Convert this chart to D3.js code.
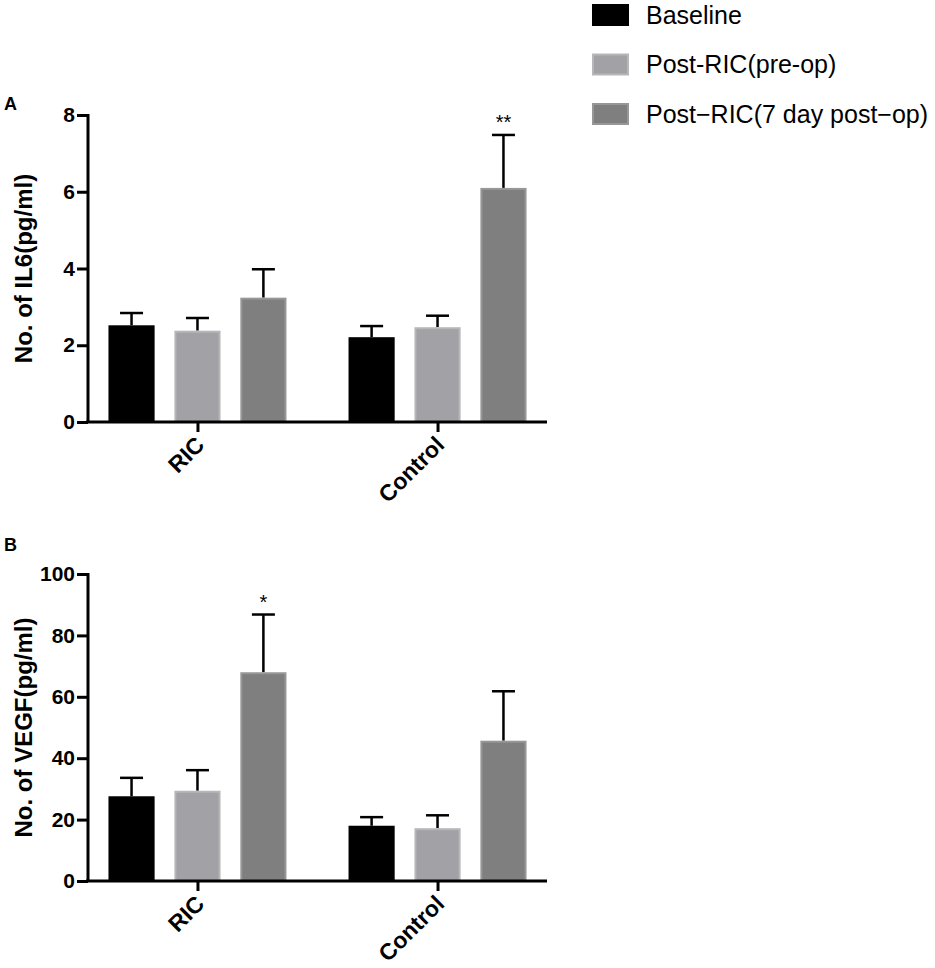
<!DOCTYPE html>
<html><head><meta charset="utf-8">
<script src="https://cdn.jsdelivr.net/npm/d3@7"></script>
<style>body{margin:0;background:#fff}</style>
</head><body>
<svg id="c" width="935" height="968"></svg>
<script>
const categories = ["RIC", "Control"];
const seriesNames = ["Baseline", "Post-RIC(pre-op)", "Post\u2212RIC(7 day post\u2212op)"];
const il6Mean = [[2.52, 2.38, 3.24], [2.21, 2.47, 6.10]];
const il6Err  = [[2.84, 2.71, 3.98], [2.50, 2.77, 7.48]];
const il6Ticks = [0, 2, 4, 6, 8];
const il6Stars = [["", "", ""], ["", "", "**"]];
const vegfMean = [[27.6, 29.4, 68.0], [18.0, 17.2, 45.7]];
const vegfErr  = [[33.6, 36.1, 86.8], [20.8, 21.4, 61.8]];
const vegfTicks = [0, 20, 40, 60, 80, 100];
const vegfStars = [["", "", "*"], ["", "", ""]];

const fills = ["#000000", "#a2a2a6", "#7f7f7f"];
const strokes = ["#000000", "#b7b7ba", "#979797"];

const svg = d3.select("#c");
const boldFont = "'Liberation Sans', Arial, sans-serif";

function panel(opts) {
  const {letter, letterY, top, bottom, max, ticks, means, errs, stars, title} = opts;
  const g = svg.append("g");
  const x0 = d3.scalePoint().domain(categories).range([88, 547]).padding(0.456);
  const x1 = d3.scaleBand().domain(seriesNames).range([-89, 89]).paddingInner(0.3).paddingOuter(0);
  const y = d3.scaleLinear().domain([0, max]).range([bottom, top]);

  categories.forEach((c, ci) => {
    seriesNames.forEach((s, si) => {
      const bx = x0(c) + x1(s);
      const bw = x1.bandwidth();
      const cx = bx + bw / 2;
      g.append("line").attr("x1", cx).attr("x2", cx)
        .attr("y1", y(means[ci][si])).attr("y2", y(errs[ci][si]))
        .attr("stroke", "#000").attr("stroke-width", 2.5);
      g.append("line").attr("x1", cx - 11.5).attr("x2", cx + 11.5)
        .attr("y1", y(errs[ci][si])).attr("y2", y(errs[ci][si]))
        .attr("stroke", "#000").attr("stroke-width", 2.5);
      g.append("rect").attr("x", bx + 1).attr("y", y(means[ci][si]) + 1)
        .attr("width", bw - 2).attr("height", y(0) - y(means[ci][si]) - 1)
        .attr("fill", fills[si]).attr("stroke", strokes[si]).attr("stroke-width", 2);
      if (stars[ci][si]) {
        g.append("text").attr("x", cx).attr("y", y(errs[ci][si]) - 6)
          .attr("text-anchor", "middle").attr("font-family", boldFont)
          .attr("font-size", 20).text(stars[ci][si]);
      }
    });
  });

  const ya = g.append("g").attr("transform", "translate(88,0)")
    .call(d3.axisLeft(y).tickValues(ticks).tickSize(11).tickPadding(2).tickFormat(d3.format("d")));
  ya.select(".domain").attr("stroke-width", 3).attr("d", `M0,${bottom}V${top - 1}`);
  ya.selectAll(".tick line").attr("stroke-width", 3);
  ya.selectAll(".tick text").attr("font-family", boldFont).attr("font-weight", "bold")
    .attr("font-size", 21).attr("fill", "#000");

  const xa = g.append("g").attr("transform", `translate(0,${bottom})`)
    .call(d3.axisBottom(x0).tickSize(10).tickFormat(""));
  xa.select(".domain").attr("stroke-width", 3).attr("d", "M86,0H547");
  xa.selectAll(".tick line").attr("stroke-width", 3);
  categories.forEach(c => {
    g.append("text")
      .attr("transform", `translate(${x0(c) - 4},${bottom + 12}) rotate(-45)`)
      .attr("text-anchor", "end").attr("dy", "0.75em")
      .attr("font-family", boldFont).attr("font-weight", "bold").attr("font-size", 23)
      .text(c);
  });

  g.append("text")
    .attr("transform", `translate(24,${(top + bottom) / 2}) rotate(-90)`)
    .attr("text-anchor", "middle").attr("dy", "0.35em")
    .attr("font-family", boldFont).attr("font-weight", "bold").attr("font-size", 24)
    .text(title);

  g.append("text").attr("x", 4).attr("y", letterY)
    .attr("font-family", boldFont).attr("font-weight", "bold").attr("font-size", 18)
    .text(letter);
}

panel({letter: "A", letterY: 110, top: 115, bottom: 422, max: 8, ticks: il6Ticks,
  means: il6Mean, errs: il6Err, stars: il6Stars, title: "No. of IL6(pg/ml)"});
panel({letter: "B", letterY: 551, top: 574, bottom: 881, max: 100, ticks: vegfTicks,
  means: vegfMean, errs: vegfErr, stars: vegfStars, title: "No. of VEGF(pg/ml)"});

const lg = svg.append("g");
seriesNames.forEach((s, i) => {
  const yy = 15 + i * 49.5;
  lg.append("rect").attr("x", 593).attr("y", yy - 10).attr("width", 35).attr("height", 20)
    .attr("fill", fills[i]).attr("stroke", strokes[i]).attr("stroke-width", 2);
  lg.append("text").attr("x", 646).attr("y", yy).attr("dy", "0.35em")
    .attr("font-family", "'Liberation Sans', sans-serif").attr("font-size", 25)
    .text(s);
});
</script>
</body></html>
